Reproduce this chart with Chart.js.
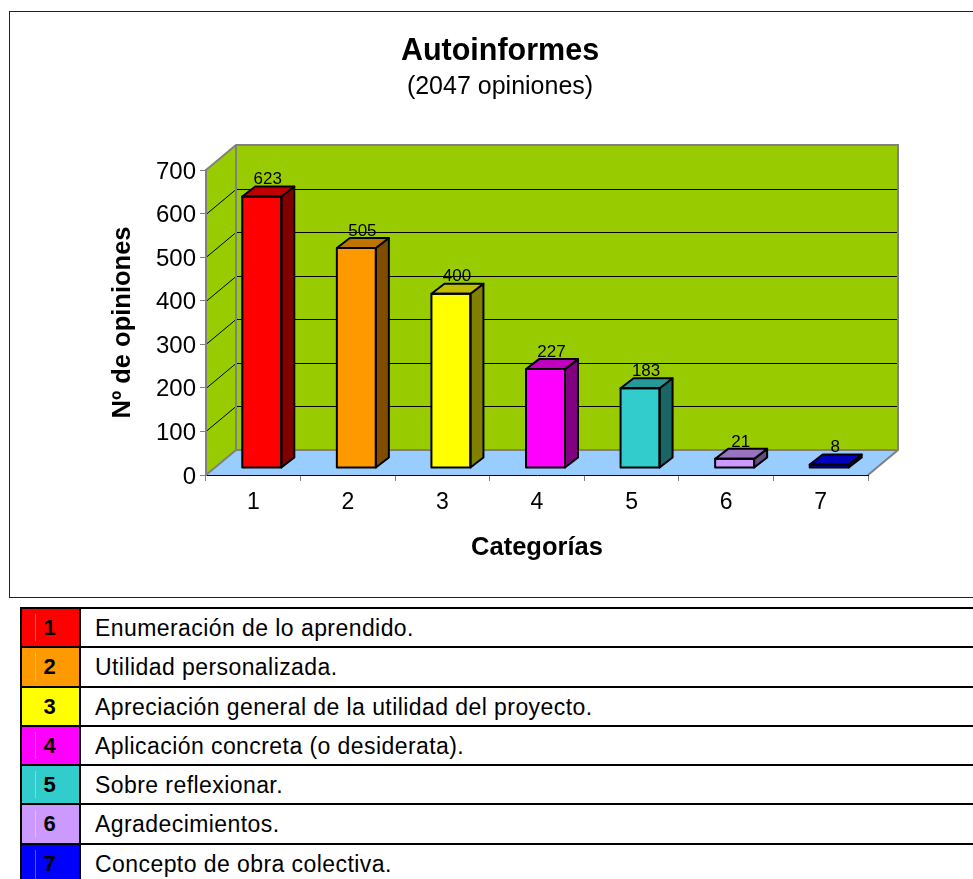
<!DOCTYPE html>
<html>
<head>
<meta charset="utf-8">
<title>Autoinformes</title>
<script src="https://cdn.jsdelivr.net/npm/chart.js@4/dist/chart.umd.min.js"></script>
<style>
  html, body { margin: 0; padding: 0; background: #fff; overflow: hidden; width: 973px; height: 879px; }
  body { position: relative; font-family: "Liberation Sans", Arial, sans-serif; }
  #frame { position: absolute; left: 9px; top: 11px; width: 1000px; height: 585px; border: 1px solid #222; }
  #chart { position: absolute; left: 0; top: 0; }
  .row { position: absolute; left: 20px; width: 1000px; border: 2px solid #000; box-sizing: border-box; background: #fff; }
  .num { position: absolute; left: 0; top: 0; bottom: 0; width: 57px; border-right: 2px solid #000; text-align: center; font-weight: bold; font-size: 22px; line-height: 38px; text-indent: -2px; }
  .num i { position: absolute; left: 13px; top: 5px; bottom: 5px; width: 1px; background: rgba(255,255,255,.35); }
  .txt { position: absolute; left: 73px; top: 0; bottom: 0; font-size: 23px; letter-spacing: .43px; line-height: 39px; white-space: nowrap; color: #000; }
</style>
</head>
<body>
<div id="frame"></div>
<canvas id="chart" width="1000" height="600"></canvas>
<div id="tabla"></div>
<script>
const categorias = ["1", "2", "3", "4", "5", "6", "7"];
const opiniones = [623, 505, 400, 227, 183, 21, 8];
const ticksY = [0, 100, 200, 300, 400, 500, 600, 700];
const descripciones = [
  "Enumeración de lo aprendido.",
  "Utilidad personalizada.",
  "Apreciación general de la utilidad del proyecto.",
  "Aplicación concreta (o desiderata).",
  "Sobre reflexionar.",
  "Agradecimientos.",
  "Concepto de obra colectiva."
];
const colores = ["#ff0000", "#ff9900", "#ffff00", "#ff00ff", "#33cccc", "#cc99ff", "#0000ff"];
const coloresTapa = ["#bf0000", "#bf7300", "#bfbf00", "#bf00bf", "#269999", "#9973bf", "#0000bf"];
const coloresLado = ["#800000", "#804d00", "#808000", "#800080", "#1a6666", "#664d80", "#000080"];

// fake 3d: back wall depth and bar depth, in pixels
const fondoX = 30, fondoY = 25;
const barraX = 8.5, barraY = 7;
const ladoX = 13, ladoY = 10;

function poly(ctx, pts, fill, stroke, lw) {
  ctx.beginPath();
  ctx.moveTo(pts[0][0], pts[0][1]);
  for (let i = 1; i < pts.length; i++) ctx.lineTo(pts[i][0], pts[i][1]);
  ctx.closePath();
  ctx.fillStyle = fill;
  ctx.fill();
  if (stroke) {
    ctx.strokeStyle = stroke;
    ctx.lineWidth = lw;
    ctx.stroke();
  }
}

const paredes = {
  id: "paredes",
  beforeDraw(chart) {
    const { ctx, chartArea: a } = chart;
    const y = chart.scales.y;
    ctx.save();
    // side wall, back wall, floor
    poly(ctx, [[a.left, a.top], [a.left + fondoX, a.top - fondoY], [a.left + fondoX, a.bottom - fondoY], [a.left, a.bottom]], "#99cc00");
    poly(ctx, [[a.left + fondoX, a.top - fondoY], [a.right + fondoX, a.top - fondoY], [a.right + fondoX, a.bottom - fondoY], [a.left + fondoX, a.bottom - fondoY]], "#99cc00");
    poly(ctx, [[a.left, a.bottom], [a.left + fondoX, a.bottom - fondoY], [a.right + fondoX, a.bottom - fondoY], [a.right, a.bottom]], "#99ccff");
    // grid lines
    ctx.strokeStyle = "#000";
    ctx.lineWidth = 1;
    ticksY.forEach(v => {
      if (v === 0 || v === 700) return;
      const py = Math.round(y.getPixelForValue(v)) + 0.5;
      ctx.beginPath();
      ctx.moveTo(a.left, py);
      ctx.lineTo(a.left + fondoX, py - fondoY);
      ctx.lineTo(a.right + fondoX, py - fondoY);
      ctx.stroke();
    });
    // wall outline
    ctx.strokeStyle = "#808080";
    ctx.lineWidth = 2;
    ctx.beginPath();
    ctx.moveTo(a.left, a.top);
    ctx.lineTo(a.left + fondoX, a.top - fondoY);
    ctx.lineTo(a.right + fondoX, a.top - fondoY);
    ctx.lineTo(a.right + fondoX, a.bottom - fondoY);
    ctx.lineTo(a.right, a.bottom);
    ctx.moveTo(a.left + fondoX, a.top - fondoY);
    ctx.lineTo(a.left + fondoX, a.bottom - fondoY);
    ctx.lineTo(a.left, a.bottom);
    ctx.moveTo(a.left + fondoX, a.bottom - fondoY);
    ctx.lineTo(a.right + fondoX, a.bottom - fondoY);
    ctx.stroke();
    ctx.restore();
  },
  beforeDatasetDraw(chart) {
    chart.ctx.save();
    chart.ctx.translate(barraX, -barraY);
  },
  afterDatasetDraw(chart, args) {
    const ctx = chart.ctx;
    ctx.restore();
    ctx.save();
    ctx.lineJoin = "round";
    args.meta.data.forEach((bar, i) => {
      const izq = bar.x - bar.width / 2 + barraX;
      const der = bar.x + bar.width / 2 + barraX;
      const arriba = bar.y - barraY;
      const abajo = bar.base - barraY;
      poly(ctx, [[der, arriba], [der + ladoX, arriba - ladoY], [der + ladoX, abajo - ladoY], [der, abajo]], coloresLado[i], "#000", 2);
      poly(ctx, [[izq, arriba], [izq + ladoX, arriba - ladoY], [der + ladoX, arriba - ladoY], [der, arriba]], coloresTapa[i], "#000", 2);
      // front outline sits on the edge of the bar
      ctx.strokeStyle = "#000";
      ctx.lineWidth = 2;
      ctx.strokeRect(izq, arriba, bar.width, abajo - arriba);
      ctx.fillStyle = "#000";
      ctx.font = '17px "Liberation Sans"';
      ctx.textAlign = "center";
      ctx.textBaseline = "middle";
      ctx.fillText(opiniones[i], bar.x + barraX + 6, arriba - 17);
    });
    ctx.restore();
  }
};

new Chart(document.getElementById("chart"), {
  type: "bar",
  data: {
    labels: categorias,
    datasets: [{
      data: opiniones,
      backgroundColor: colores,
      borderWidth: 0,
      barThickness: 39,
      clip: false
    }]
  },
  options: {
    responsive: false,
    animation: false,
    // left and right padding equal so the title centres on the frame
    layout: { autoPadding: false, padding: { left: 132, right: 132, top: 0, bottom: 0 } },
    plugins: {
      legend: { display: false },
      tooltip: { enabled: false },
      title: {
        display: true,
        text: "Autoinformes",
        color: "#000",
        font: { family: "Liberation Sans", size: 30.5, weight: "bold", lineHeight: 1.2 },
        padding: { top: 33.5, bottom: 0 }
      },
      subtitle: {
        display: true,
        text: "(2047 opiniones)",
        color: "#000",
        font: { family: "Liberation Sans", size: 25, lineHeight: 1.2 },
        padding: { top: 1.9, bottom: 68 }
      }
    },
    scales: {
      x: {
        afterFit: s => { s.height = 125; },
        border: { color: "#000", width: 1 },
        grid: { drawOnChartArea: false, color: "#808080", tickLength: 6, offset: true },
        ticks: { color: "#000", padding: 8, font: { family: "Liberation Sans", size: 23 } },
        title: {
          display: true,
          text: "Categorías",
          color: "#000",
          font: { family: "Liberation Sans", size: 25.5, weight: "bold", lineHeight: 1.2 },
          padding: { top: 0, bottom: 37 }
        }
      },
      y: {
        min: 0,
        max: 700,
        afterFit: s => { s.width = 74; },
        afterBuildTicks: s => { s.ticks = ticksY.map(v => ({ value: v })); },
        border: { color: "#808080", width: 2 },
        grid: { drawOnChartArea: false, color: "#808080", tickLength: 6 },
        ticks: { color: "#000", padding: 4, labelOffset: 2, font: { family: "Liberation Sans", size: 24 } },
        title: {
          display: true,
          text: "Nº de opiniones",
          color: "#000",
          font: { family: "Liberation Sans", size: 25.5, weight: "bold", lineHeight: 1.2 },
          padding: { top: -24, bottom: 0 }
        }
      }
    }
  },
  plugins: [paredes]
});

// legend table under the chart
const lineas = [607, 646, 686, 725, 764, 803, 843, 890];
let html = "";
descripciones.forEach((d, i) => {
  const alto = lineas[i + 1] - lineas[i] + 2;
  html += `<div class="row" style="top:${lineas[i]}px;height:${alto}px">
    <div class="num" style="background:${colores[i]}"><i></i>${categorias[i]}</div>
    <div class="txt">${d}</div>
  </div>`;
});
document.getElementById("tabla").innerHTML = html;
</script>
</body>
</html>
